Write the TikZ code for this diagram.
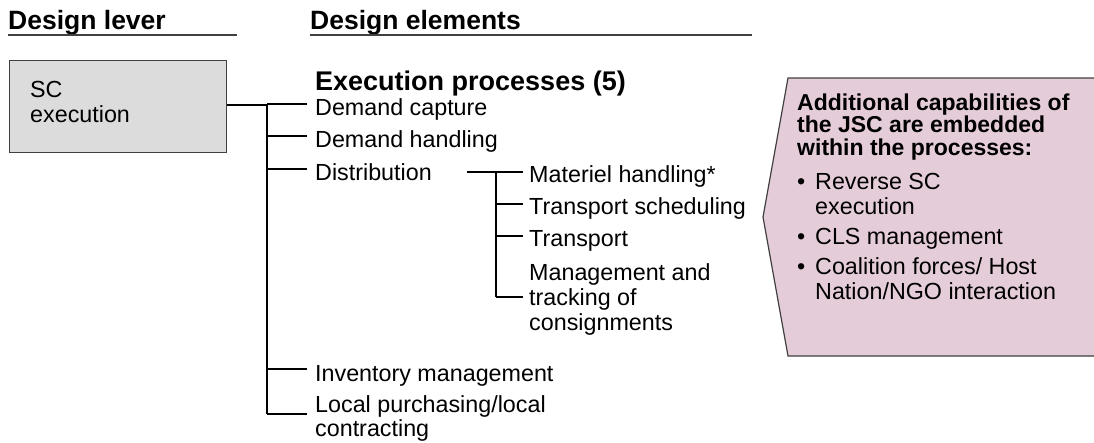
\documentclass[tikz,border=0pt]{standalone}
\usepackage{fontspec}
\usetikzlibrary{calc}
\setmainfont{Liberation Sans}
\definecolor{boxgray}{HTML}{DCDCDC}
\definecolor{pinkfill}{HTML}{E5CCD9}
\definecolor{edge}{HTML}{404040}
\begin{document}
\begin{tikzpicture}[x=1pt,y=-1pt,
  hdr/.style={anchor=base west,inner sep=0pt,font=\fontsize{26.5}{30}\selectfont\bfseries},
  item/.style={anchor=base west,inner sep=0pt,align=left,font=\fontsize{23.3}{25}\selectfont},
  pinktxt/.style={anchor=base west,inner sep=0pt,align=left,font=\fontsize{23}{22.5}\selectfont\bfseries},
  bul/.style={anchor=base west,inner sep=0pt,align=left,font=\fontsize{23.3}{25}\selectfont},
  conn/.style={line width=1.2pt,black},
  vconn/.style={line width=1.6pt,black},
  thick conn/.style={line width=2pt,black},
  uline/.style={line width=1.5pt,edge}]
\useasboundingbox (0,0) rectangle (1094,442);
% headers
\node[hdr] (hl) at (8,29) {Design lever};
\node[hdr] (he) at (310,29) {Design elements};
\coordinate (hlu1) at (8,35); \coordinate (hlu2) at (237,35);
\coordinate (heu1) at (310,35); \coordinate (heu2) at (752,35);
\draw[uline] (hlu1) -- (hlu2);
\draw[uline] (heu1) -- (heu2);
% lever box
\node[draw=edge,fill=boxgray,line width=1.2pt,minimum width=217pt,minimum height=92pt,anchor=north west,inner sep=0pt] (box) at (9,60) {};
\node[item] (boxt) at (30,122) {SC\\execution};
% title
\node[anchor=base west,inner sep=0pt,font=\fontsize{27}{30}\selectfont\bfseries] (title) at (315,90) {Execution processes (5)};
% items
\node[item] (dc) at (315,115) {Demand capture};
\node[item] (dh) at (315,147) {Demand handling};
\node[item] (di) at (315,180) {Distribution};
\node[item] (im) at (315,381) {Inventory management};
\node[item,font=\fontsize{23.3}{24}\selectfont] (lp) at (315,436) {Local purchasing/local\\contracting};
% sub items
\node[item] (mh) at (529,182) {Materiel handling*};
\node[item] (ts) at (529,214) {Transport scheduling};
\node[item] (tr) at (529,246) {Transport};
\node[item] (mt) at (529,330) {Management and\\tracking of\\consignments};
% main tree
\coordinate (j0) at (267,105);
\coordinate (jb) at (267,414);
\draw[thick conn] (box.east |- j0) -- (j0);
\draw[vconn] (j0) -- (jb);
\draw[conn] (j0 |- {$(dc.base west)+(0,-11)$}) -- ([xshift=-8pt,yshift=11pt]dc.base west);
\draw[conn] (j0 |- {$(dh.base west)+(0,-11)$}) -- ([xshift=-8pt,yshift=11pt]dh.base west);
\draw[conn] (j0 |- {$(di.base west)+(0,-11)$}) -- ([xshift=-8pt,yshift=11pt]di.base west);
\draw[conn] (j0 |- {$(im.base west)+(0,-12)$}) -- ([xshift=-8pt,yshift=12pt]im.base west);
\draw[conn] (jb) -- ([xshift=-8pt]lp.west |- jb);
% sub tree
\coordinate (ds) at (467,172);
\coordinate (j1) at (496,172);
\coordinate (j1b) at (496,297);
\draw[thick conn] (ds) -- (j1);
\draw[vconn] (j1) -- (j1b);
\draw[conn] (j1) -- ([xshift=-6pt,yshift=10pt]mh.base west);
\draw[conn] (j1 |- {$(ts.base west)+(0,-10)$}) -- ([xshift=-6pt,yshift=10pt]ts.base west);
\draw[conn] (j1 |- {$(tr.base west)+(0,-10)$}) -- ([xshift=-6pt,yshift=10pt]tr.base west);
\draw[conn] (j1b) -- ([xshift=-6pt]mt.west |- j1b);
% pink callout
\coordinate (p1) at (1100,78);
\coordinate (p2) at (788,78);
\coordinate (p3) at (763,217);
\coordinate (p4) at (788,356);
\coordinate (p5) at (1100,356);
\draw[fill=pinkfill,draw=edge,line width=1.2pt] (p1) -- (p2) -- (p3) -- (p4) -- (p5);
\node[pinktxt] (pt) at (797,155) {Additional capabilities of\\the JSC are embedded\\within the processes:};
\node[bul] (b1) at (815,214) {Reverse SC\\execution};
\node[bul] (b2) at (815,244) {CLS management};
\node[bul] (b3) at (815,299) {Coalition forces/ Host\\Nation/NGO interaction};
\node[bul] (db1) at (797,189) {\textbullet};
\node[bul] (db2) at (797,244) {\textbullet};
\node[bul] (db3) at (797,274) {\textbullet};
\end{tikzpicture}
\end{document}
